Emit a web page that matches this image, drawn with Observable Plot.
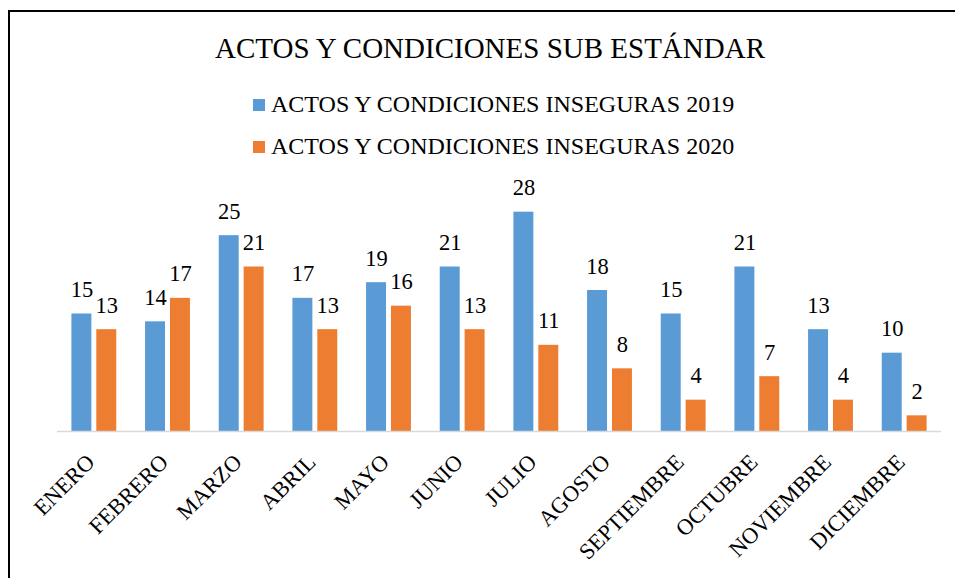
<!DOCTYPE html>
<html>
<head>
<meta charset="utf-8">
<script src="https://cdn.jsdelivr.net/npm/d3@7"></script>
<script src="https://cdn.jsdelivr.net/npm/@observablehq/plot@0.6"></script>
<style>
  html, body { margin: 0; padding: 0; background: #fff; }
  #root { position: relative; width: 955px; height: 578px; overflow: hidden; font-family: "Liberation Serif", "Times New Roman", serif; color: #000; }
  #frame { position: absolute; left: 8px; top: 10px; width: 1000px; height: 700px; border-left: 2px solid #000; border-top: 2px solid #000; box-sizing: border-box; }
  #title { position: absolute; left: 0; width: 980px; top: 34px; text-align: center; font-size: 29px; line-height: 29px; white-space: nowrap; }
  .leg { position: absolute; left: 253px; font-size: 24px; line-height: 24px; white-space: nowrap; }
  .sw { position: absolute; left: 0; width: 12px; height: 12px; }
  .lt { position: absolute; left: 18px; top: 0; }
  #chart { position: absolute; left: 0; top: 170px; }
  #chart svg text { font-family: "Liberation Serif", "Times New Roman", serif; }
</style>
</head>
<body>
<div id="root">
  <div id="frame"></div>
  <div id="title"></div>
  <div id="legend"></div>
  <div id="chart"></div>
</div>
<script>
const title = "ACTOS Y CONDICIONES SUB ESTÁNDAR";
const months = ["ENERO", "FEBRERO", "MARZO", "ABRIL", "MAYO", "JUNIO", "JULIO", "AGOSTO", "SEPTIEMBRE", "OCTUBRE", "NOVIEMBRE", "DICIEMBRE"];
const seriesNames = ["ACTOS Y CONDICIONES INSEGURAS 2019", "ACTOS Y CONDICIONES INSEGURAS 2020"];
const values2019 = [15, 14, 25, 17, 19, 21, 28, 18, 15, 21, 13, 10];
const values2020 = [13, 17, 21, 13, 16, 13, 11, 8, 4, 7, 4, 2];
const colors = ["#5B9BD5", "#ED7D31"];

document.getElementById("title").textContent = title;

const legend = document.getElementById("legend");
seriesNames.forEach((name, i) => {
  const item = document.createElement("div");
  item.className = "leg";
  item.style.top = (91.5 + i * 42) + "px";
  const sw = document.createElement("div");
  sw.className = "sw";
  sw.style.background = colors[i];
  sw.style.top = "7.5px";
  const t = document.createElement("div");
  t.className = "lt";
  t.textContent = name;
  item.appendChild(sw);
  item.appendChild(t);
  legend.appendChild(item);
});

const data = months.map((m, i) => ({month: m, a: values2019[i], b: values2020[i]}));
const serif = "Liberation Serif";
const hasAxisMark = typeof Plot.axisX === "function";

const marks = [
  Plot.barY(data, {x: "month", y: "a", fill: colors[0], insetLeft: 14.4, insetRight: 39.3}),
  Plot.barY(data, {x: "month", y: "b", fill: colors[1], insetLeft: 39.3, insetRight: 14.4}),
  Plot.ruleY([0], {stroke: "#D9D9D9", strokeWidth: 1.5}),
  Plot.text(data, {x: "month", y: "a", text: "a", dx: -12.4, dy: -17, lineAnchor: "bottom", fontSize: 22.5, fontFamily: serif, fill: "#000"}),
  Plot.text(data, {x: "month", y: "b", text: "b", dx: 12.4, dy: -17, lineAnchor: "bottom", fontSize: 22.5, fontFamily: serif, fill: "#000"})
];
if (hasAxisMark) {
  marks.push(Plot.axisX({tickRotate: -45, tickSize: 0, tickPadding: 27, dx: -3.5, label: null, fontSize: 22.5, fontFamily: serif, fill: "#000"}));
}

const chart = Plot.plot({
  width: 955,
  height: 408,
  marginLeft: 57,
  marginRight: 14,
  marginTop: 26,
  marginBottom: 147,
  style: {fontFamily: serif, fontSize: "22.5px", color: "#000", background: "transparent", overflow: "visible"},
  x: hasAxisMark
    ? {domain: months, padding: 0, round: false, axis: null}
    : {domain: months, padding: 0, round: false, tickRotate: -45, tickSize: 0, tickPadding: 27, label: null},
  y: {domain: [0, 30], axis: null},
  marks
});
document.getElementById("chart").appendChild(chart);
</script>
</body>
</html>
